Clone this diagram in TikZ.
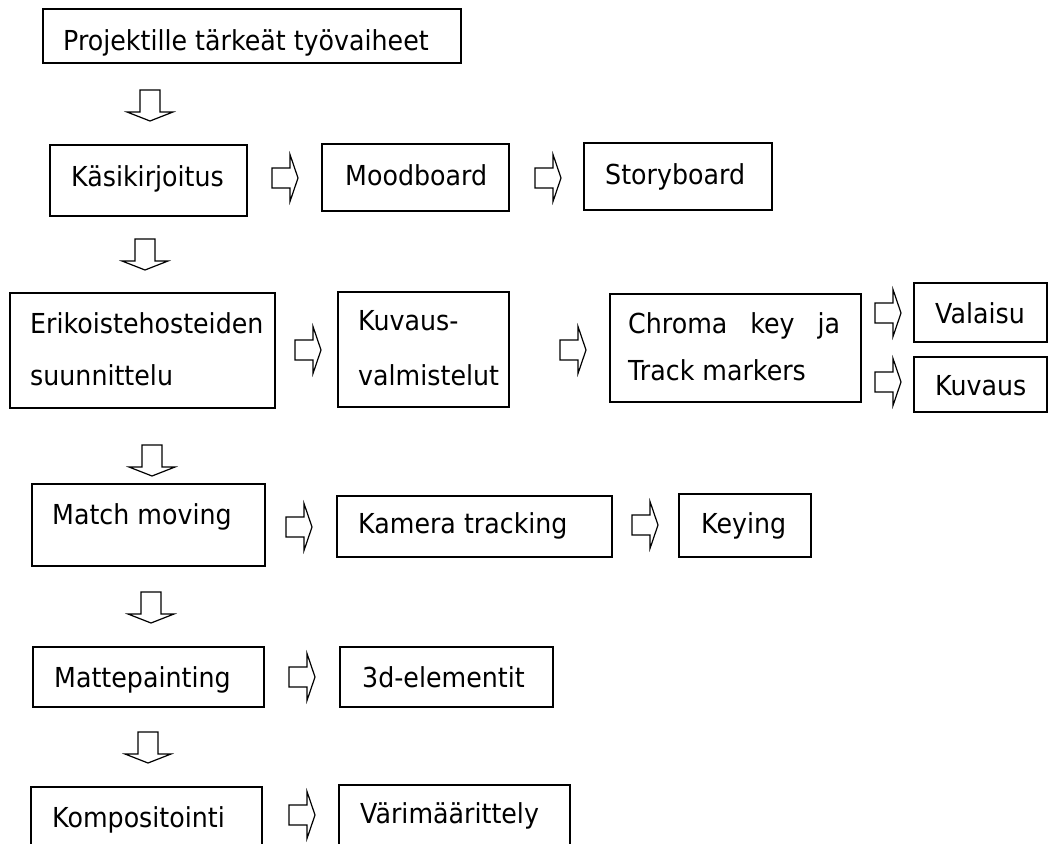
\documentclass[tikz,border=0pt]{standalone}
\usepackage{fontspec}
\setmainfont{DejaVu Sans}[FakeStretch=0.92]
\usetikzlibrary{fit}
\tikzset{>=latex}
\tikzset{box/.style={draw,line width=1.4pt,inner sep=0pt}}
\tikzset{lbl/.style={anchor=base west,inner sep=0pt,font=\fontsize{27.5}{33}\selectfont}}
\tikzset{hollow/.style={draw,line width=1.2pt,line join=miter,fill=white}}
\newcommand\stagebox[5]{\node[box,fit={(#2,#3) (#4,#5)}] (#1) {};}
% hollow block arrows: x of shaft centre / tail, y of tail / centre
\newcommand\downblock[2]{\draw[hollow] ({#1-10},#2) -- ++(20,0) -- ++(0,22) -- ++(13,0) -- ++(-23,9) -- ++(-23,-9) -- ++(13,0) -- cycle;}
\newcommand\rightblock[2]{\draw[hollow] (#1,{#2-10}) -- ++(18,0) -- ++(0,-13.5) -- ++(8,23.5) -- ++(-8,23.5) -- ++(0,-13.5) -- ++(-18,0) -- cycle;}

\begin{document}
\begin{tikzpicture}[x=1pt,y=-1pt]
  \clip (0,0) rectangle (1048,843);
  \fill[white] (0,0) rectangle (1048,843);
  % Boxes
  \stagebox{head}{43}{9}{461}{63}
  \stagebox{kasi}{50}{145}{247}{216}
  \stagebox{mood}{322}{144}{509}{211}
  \stagebox{story}{584}{143}{772}{210}
  \stagebox{erik}{10}{293}{275}{408}
  \stagebox{kuvv}{338}{292}{509}{407}
  \stagebox{chroma}{610}{294}{861}{402}
  \stagebox{valo}{914}{283}{1047}{342}
  \stagebox{kuvaus}{914}{357}{1047}{412}
  \stagebox{match}{32}{484}{265}{566}
  \stagebox{kamera}{337}{496}{612}{557}
  \stagebox{keying}{679}{494}{811}{557}
  \stagebox{matte}{33}{647}{264}{707}
  \stagebox{elem}{340}{647}{553}{707}
  \stagebox{komp}{31}{787}{262}{870}
  \stagebox{vari}{339}{785}{570}{870}
  % Texts
  \node[lbl] (headt) at (63,50) {Projektille tärkeät työvaiheet};
  \node[lbl] (kasit) at (71,186) {Käsikirjoitus};
  \node[lbl] (moodt) at (345,185) {Moodboard};
  \node[lbl] (storyt) at (605,184) {Storyboard};
  \node[lbl] (erikt) at (30,333) {Erikoistehosteiden};
  \node[lbl] (erikb) at (30,385) {suunnittelu};
  \node[lbl] (kuvvt) at (358,330) {Kuvaus-};
  \node[lbl] (kuvvb) at (358,385) {valmistelut};
  \node[lbl] (chromat) at (628,333) {\makebox[212pt][s]{Chroma key ja}};
  \node[lbl] (chromab) at (628,380) {Track markers};
  \node[lbl] (valot) at (935,323) {Valaisu};
  \node[lbl] (kuvaust) at (935,395) {Kuvaus};
  \node[lbl] (matcht) at (52,524) {Match moving};
  \node[lbl] (kamerat) at (358,533) {Kamera tracking};
  \node[lbl] (keyingt) at (701,533) {Keying};
  \node[lbl] (mattet) at (54,687) {Mattepainting};
  \node[lbl] (elemt) at (362,687) {3d-elementit};
  \node[lbl] (kompt) at (52,827) {Kompositointi};
  \node[lbl] (varit) at (360,823) {Värimäärittely};
  % Down arrows
  \downblock{150}{90}
  \downblock{145}{239}
  \downblock{152}{445}
  \downblock{151}{592}
  \downblock{148}{732}
  % Right arrows
  \rightblock{272}{178}
  \rightblock{535}{178}
  \rightblock{295}{350}
  \rightblock{560}{350}
  \rightblock{875}{313}
  \rightblock{875}{382}
  \rightblock{286}{527}
  \rightblock{632}{525}
  \rightblock{289}{677}
  \rightblock{289}{815}
\end{tikzpicture}
\end{document}
